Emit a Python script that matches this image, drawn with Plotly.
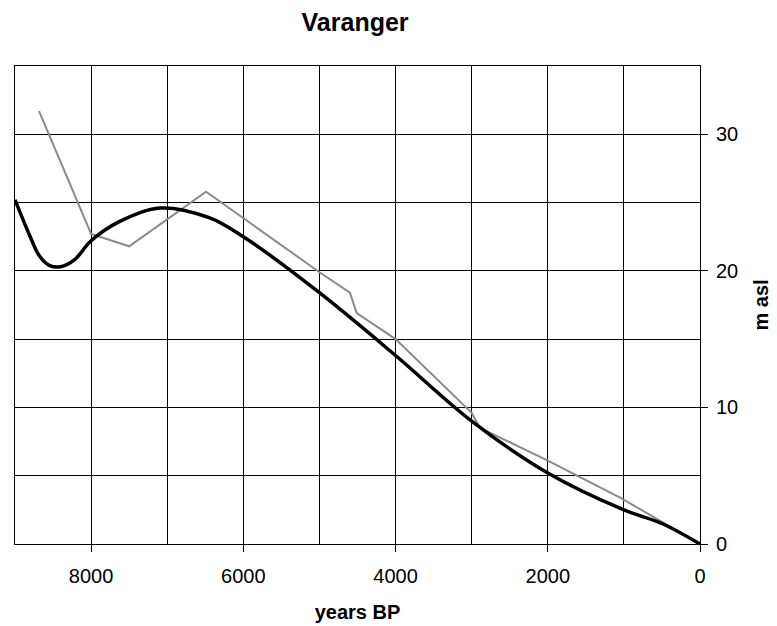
import plotly.graph_objects as go

# Smooth (thick) curve
smooth_years = [9000, 8800, 8680, 8550, 8400, 8220, 8000, 7630, 7100, 6450, 6000, 5000, 4000, 3000, 2000, 1000, 500, 0]
smooth_masl = [25.2, 22.5, 21.1, 20.4, 20.3, 20.8, 22.2, 23.6, 24.6, 23.9, 22.5, 18.4, 13.8, 9.0, 5.2, 2.5, 1.5, 0.0]

# Thin grey polyline
grey_years = [8684, 8000, 7500, 6490, 5000, 4600, 4510, 4000, 3000, 2890, 2000, 1050, 0]
grey_masl = [31.7, 22.7, 21.8, 25.8, 19.9, 18.4, 16.9, 15.0, 9.6, 8.5, 6.1, 3.4, 0.0]

x_ticks = [8000, 6000, 4000, 2000, 0]
y_ticks = [0, 10, 20, 30]

fig = go.Figure()
fig.add_trace(go.Scatter(x=grey_years, y=grey_masl, mode="lines",
                         line=dict(color="#8a8a8a", width=2), showlegend=False))
fig.add_trace(go.Scatter(x=smooth_years, y=smooth_masl, mode="lines",
                         line=dict(color="black", width=3.5, shape="spline", smoothing=1.0),
                         showlegend=False))

font_family = "Liberation Sans, Arial, sans-serif"
fig.update_layout(
    width=777, height=626,
    paper_bgcolor="white", plot_bgcolor="white",
    margin=dict(l=15, r=77, t=66, b=82),
    title=dict(text="<b>Varanger</b>", x=0.457, xanchor="center", y=0.965, yanchor="middle",
               font=dict(family=font_family, size=25, color="black")),
    font=dict(family=font_family, size=20, color="black"),
    xaxis=dict(range=[9000, 0], tickvals=x_ticks, ticktext=[str(v) for v in x_ticks],
               ticks="outside", ticklen=7, tickcolor="black", showline=True, linecolor="black",
               linewidth=1, mirror=True, showgrid=True, gridcolor="black", gridwidth=1,
               minor=dict(dtick=1000, tick0=0, showgrid=True, gridcolor="black", gridwidth=1),
               zeroline=False, ticklabelstandoff=7, automargin=False,
               title=dict(text="<b>years BP</b>", font=dict(size=20), standoff=18)),
    yaxis=dict(range=[0, 35], side="right", tickvals=y_ticks, ticktext=[str(v) for v in y_ticks],
               ticks="outside", ticklen=7, tickcolor="black", showline=True, linecolor="black",
               linewidth=1, mirror=True, showgrid=True, gridcolor="black", gridwidth=1,
               minor=dict(dtick=5, tick0=0, showgrid=True, gridcolor="black", gridwidth=1),
               zeroline=False, ticklabelstandoff=4, automargin=False,
               title=dict(text="<b>m asl</b>", font=dict(size=20), standoff=16)),
)

fig.write_html("out.html")
